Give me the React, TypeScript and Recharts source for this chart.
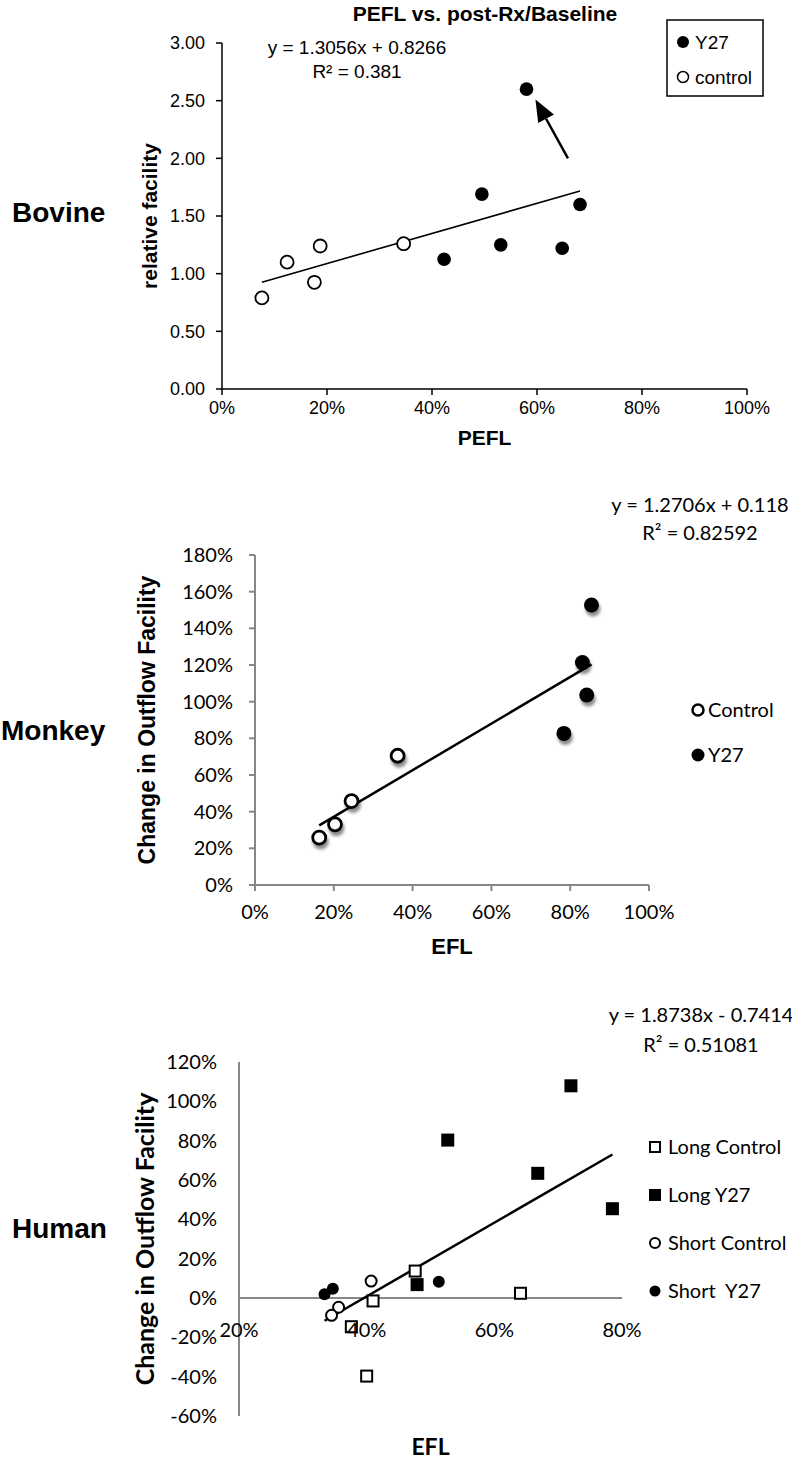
import { ReferenceLine, Scatter, ScatterChart, XAxis, YAxis } from "recharts";

// Bovine panel: PEFL vs. relative facility
const bovineControlX = [0.076, 0.124, 0.176, 0.187, 0.346];
const bovineControlY = [0.79, 1.1, 0.925, 1.24, 1.26];
const bovineY27X = [0.423, 0.495, 0.531, 0.58, 0.648, 0.682];
const bovineY27Y = [1.125, 1.69, 1.25, 2.6, 1.22, 1.6];
const bovineXTicks = [0, 0.2, 0.4, 0.6, 0.8, 1];
const bovineYTicks = [0, 0.5, 1, 1.5, 2, 2.5, 3];
const bovineFit = { slope: 1.3056, intercept: 0.8266 };
// arrow pointing at the outlier: tail, head
const bovineArrow = [
	{ x: 0.659, y: 2.0 },
	{ x: 0.597, y: 2.51 },
];

// Monkey panel: EFL vs. change in outflow facility
const monkeyControlX = [0.163, 0.203, 0.245, 0.362];
const monkeyControlY = [0.258, 0.331, 0.458, 0.705];
const monkeyY27X = [0.784, 0.831, 0.842, 0.854];
const monkeyY27Y = [0.827, 1.213, 1.036, 1.527];
const monkeyXTicks = [0, 0.2, 0.4, 0.6, 0.8, 1];
const monkeyYTicks = [0, 0.2, 0.4, 0.6, 0.8, 1, 1.2, 1.4, 1.6, 1.8];
const monkeyFit = { slope: 1.2706, intercept: 0.118 };

// Human panel
const humanLongControlX = [0.476, 0.41, 0.641, 0.376, 0.4];
const humanLongControlY = [0.137, -0.015, 0.024, -0.146, -0.397];
const humanLongY27X = [0.72, 0.527, 0.668, 0.785, 0.479];
const humanLongY27Y = [1.079, 0.803, 0.634, 0.454, 0.068];
const humanShortControlX = [0.407, 0.356, 0.345];
const humanShortControlY = [0.086, -0.047, -0.088];
const humanShortY27X = [0.334, 0.347, 0.513];
const humanShortY27Y = [0.019, 0.047, 0.083];
const humanXTicks = [0.2, 0.4, 0.6, 0.8];
const humanYTicks = [-0.6, -0.4, -0.2, 0, 0.2, 0.4, 0.6, 0.8, 1, 1.2];
const humanFit = { slope: 1.8738, intercept: -0.7414 };

const ARIAL = "'Liberation Sans', Arial, sans-serif";
const CALIBRI = "Lato, 'Open Sans', sans-serif";
const AXIS_GRAY = "#878787";

const pts = (xs: number[], ys: number[]) => xs.map((x, i) => ({ x, y: ys[i] }));
const pct = (v: number) => `${Math.round(v * 100)}%`;

// trendline drawn over the x range of all points
function fitSegment(xs: number[], fit: { slope: number; intercept: number }) {
	const lo = Math.min(...xs);
	const hi = Math.max(...xs);
	return [
		{ x: lo, y: fit.slope * lo + fit.intercept },
		{ x: hi, y: fit.slope * hi + fit.intercept },
	];
}

const circle =
	(r: number, fill: string, sw: number, filter?: string) =>
	(p: any) => (
		<circle cx={p.cx} cy={p.cy} r={r} fill={fill} stroke="#000" strokeWidth={sw} filter={filter} />
	);

const square = (size: number, fill: string, sw: number) => (p: any) => (
	<rect
		x={p.cx - size / 2}
		y={p.cy - size / 2}
		width={size}
		height={size}
		fill={fill}
		stroke="#000"
		strokeWidth={sw}
	/>
);

function ArrowShape(p: any) {
	const { x1, y1, x2, y2 } = p;
	const ang = Math.atan2(y2 - y1, x2 - x1);
	const len = 22;
	const half = 9;
	const bx = x2 - len * Math.cos(ang);
	const by = y2 - len * Math.sin(ang);
	const nx = -Math.sin(ang);
	const ny = Math.cos(ang);
	return (
		<g>
			<line x1={x1} y1={y1} x2={bx} y2={by} stroke="#000" strokeWidth={2.5} />
			<polygon
				points={`${x2},${y2} ${bx + nx * half},${by + ny * half} ${bx - nx * half},${by - ny * half}`}
				fill="#000"
			/>
		</g>
	);
}

function BovineChart() {
	const allX = [...bovineControlX, ...bovineY27X];
	return (
		<ScatterChart width={792} height={455} margin={{ top: 43, right: 45, bottom: 10, left: 145 }}>
			<XAxis
				type="number"
				dataKey="x"
				domain={[0, 1]}
				ticks={bovineXTicks}
				interval={0}
				tickFormatter={pct}
				height={56}
				axisLine={{ stroke: "#000", strokeWidth: 1.5 }}
				tickLine={{ stroke: "#000", strokeWidth: 1.5 }}
				tickSize={6}
				tickMargin={6}
				tick={{ fill: "#000", fontSize: 18, fontFamily: ARIAL }}
				label={{
					value: "PEFL",
					position: "insideBottom",
					offset: 0,
					fill: "#000",
					fontSize: 21,
					fontWeight: 700,
					fontFamily: ARIAL,
				}}
			/>
			<YAxis
				type="number"
				dataKey="y"
				domain={[0, 3]}
				ticks={bovineYTicks}
				interval={0}
				tickFormatter={(v: number) => v.toFixed(2)}
				width={77}
				axisLine={{ stroke: "#000", strokeWidth: 1.5 }}
				tickLine={{ stroke: "#000", strokeWidth: 1.5 }}
				tickSize={6}
				tickMargin={11}
				tick={{ fill: "#000", fontSize: 18, fontFamily: ARIAL }}
				label={{
					value: "relative facility",
					angle: -90,
					position: "insideLeft",
					offset: 5,
					fill: "#000",
					fontSize: 21,
					fontWeight: 700,
					fontFamily: ARIAL,
					style: { textAnchor: "middle" },
				}}
			/>
			<ReferenceLine segment={fitSegment(allX, bovineFit)} stroke="#000" strokeWidth={1.6} />
			<ReferenceLine segment={bovineArrow} shape={ArrowShape} />
			<Scatter
				name="control"
				data={pts(bovineControlX, bovineControlY)}
				shape={circle(6.5, "#fff", 1.8)}
				isAnimationActive={false}
			/>
			<Scatter
				name="Y27"
				data={pts(bovineY27X, bovineY27Y)}
				shape={circle(6.8, "#000", 0)}
				isAnimationActive={false}
			/>
		</ScatterChart>
	);
}

function MonkeyChart() {
	const allX = [...monkeyControlX, ...monkeyY27X];
	return (
		<ScatterChart width={792} height={480} margin={{ top: 75, right: 143, bottom: 0, left: 142 }}>
			<XAxis
				type="number"
				dataKey="x"
				domain={[0, 1]}
				ticks={monkeyXTicks}
				interval={0}
				tickFormatter={pct}
				height={75}
				axisLine={{ stroke: AXIS_GRAY, strokeWidth: 2 }}
				tickLine={{ stroke: AXIS_GRAY, strokeWidth: 2 }}
				tickSize={6}
				tickMargin={14}
				tick={{ fill: "#000", fontSize: 20, fontFamily: CALIBRI }}
				label={{
					value: "EFL",
					position: "insideBottom",
					offset: 6,
					fill: "#000",
					fontSize: 22,
					fontWeight: 700,
					fontFamily: ARIAL,
				}}
			/>
			<YAxis
				type="number"
				dataKey="y"
				domain={[0, 1.8]}
				ticks={monkeyYTicks}
				interval={0}
				tickFormatter={pct}
				width={113}
				axisLine={{ stroke: AXIS_GRAY, strokeWidth: 2 }}
				tickLine={{ stroke: AXIS_GRAY, strokeWidth: 2 }}
				tickSize={6}
				tickMargin={16}
				tick={{ fill: "#000", fontSize: 20, fontFamily: CALIBRI }}
				label={{
					value: "Change in Outflow Facility",
					angle: -90,
					position: "insideLeft",
					offset: 5,
					fill: "#000",
					fontSize: 23,
					fontWeight: 700,
					fontFamily: ARIAL,
					style: { textAnchor: "middle" },
				}}
			/>
			<ReferenceLine segment={fitSegment(allX, monkeyFit)} stroke="#000" strokeWidth={2.5} />
			<Scatter
				name="Control"
				data={pts(monkeyControlX, monkeyControlY)}
				shape={circle(6.5, "#fff", 2.8, "url(#mkShadow)")}
				isAnimationActive={false}
			/>
			<Scatter
				name="Y27"
				data={pts(monkeyY27X, monkeyY27Y)}
				shape={circle(7.5, "#000", 0, "url(#mkShadow)")}
				isAnimationActive={false}
			/>
		</ScatterChart>
	);
}

const HUMAN_H = 478;
const HUMAN_MARGIN = { top: 72, right: 170, bottom: 13, left: 140 };
const HUMAN_XAXIS_H = 39;

function HumanChart() {
	const allX = [...humanLongControlX, ...humanLongY27X, ...humanShortControlX, ...humanShortY27X];
	const yMin = humanYTicks[0];
	const yMax = humanYTicks[humanYTicks.length - 1];
	const plotH = HUMAN_H - HUMAN_MARGIN.top - HUMAN_MARGIN.bottom - HUMAN_XAXIS_H;
	// x tick labels sit just under the y = 0 line, not at the plot bottom
	const zeroLift = (plotH * (0 - yMin)) / (yMax - yMin);
	const xTick = (p: any) => (
		<text
			x={p.x}
			y={p.y - zeroLift + 39}
			textAnchor="middle"
			fill="#000"
			fontSize={20}
			fontFamily={CALIBRI}
		>
			{pct(p.payload.value)}
		</text>
	);
	return (
		<ScatterChart width={792} height={HUMAN_H} margin={HUMAN_MARGIN}>
			<XAxis
				type="number"
				dataKey="x"
				domain={[0.2, 0.8]}
				ticks={humanXTicks}
				interval={0}
				height={HUMAN_XAXIS_H}
				axisLine={false}
				tickLine={false}
				tickSize={0}
				tickMargin={0}
				tick={xTick}
				label={{
					value: "EFL",
					position: "insideBottom",
					offset: 0,
					fill: "#000",
					fontSize: 23,
					fontWeight: 700,
					fontFamily: CALIBRI,
				}}
			/>
			<YAxis
				type="number"
				dataKey="y"
				domain={[yMin, yMax]}
				ticks={humanYTicks}
				interval={0}
				tickFormatter={pct}
				width={99}
				axisLine={{ stroke: AXIS_GRAY, strokeWidth: 2 }}
				tickLine={false}
				tickSize={0}
				tickMargin={22}
				tick={{ fill: "#000", fontSize: 20, fontFamily: CALIBRI }}
				label={{
					value: "Change in Outflow Facility",
					angle: -90,
					position: "insideLeft",
					offset: 5,
					fill: "#000",
					fontSize: 25,
					fontWeight: 700,
					fontFamily: CALIBRI,
					style: { textAnchor: "middle" },
				}}
			/>
			<ReferenceLine y={0} stroke={AXIS_GRAY} strokeWidth={2} />
			<ReferenceLine segment={fitSegment(allX, humanFit)} stroke="#000" strokeWidth={2.5} />
			<Scatter
				name="Long Control"
				data={pts(humanLongControlX, humanLongControlY)}
				shape={square(11, "#fff", 2)}
				isAnimationActive={false}
			/>
			<Scatter
				name="Long Y27"
				data={pts(humanLongY27X, humanLongY27Y)}
				shape={square(13, "#000", 0)}
				isAnimationActive={false}
			/>
			<Scatter
				name="Short Control"
				data={pts(humanShortControlX, humanShortControlY)}
				shape={circle(5.5, "#fff", 2)}
				isAnimationActive={false}
			/>
			<Scatter
				name="Short Y27"
				data={pts(humanShortY27X, humanShortY27Y)}
				shape={circle(6, "#000", 0)}
				isAnimationActive={false}
			/>
		</ScatterChart>
	);
}

export default function App() {
	return (
		<div
			style={{
				position: "absolute",
				left: 0,
				top: 0,
				width: 792,
				height: 1468,
				background: "#fff",
				overflow: "hidden",
			}}
		>
			<div style={{ position: "absolute", left: 0, top: 0 }}>
				<BovineChart />
			</div>
			<div style={{ position: "absolute", left: 0, top: 480 }}>
				<MonkeyChart />
			</div>
			<div style={{ position: "absolute", left: 0, top: 990 }}>
				<HumanChart />
			</div>

			{/* titles, species names, fit equations and legends */}
			<svg
				width={792}
				height={1468}
				style={{ position: "absolute", left: 0, top: 0, pointerEvents: "none" }}
			>
				<defs>
					<filter id="mkShadow" x="-60%" y="-60%" width="220%" height="220%">
						<feDropShadow dx={1.5} dy={4} stdDeviation={1.8} floodColor="#000" floodOpacity={0.45} />
					</filter>
				</defs>

				<g fontFamily={ARIAL} fill="#000">
					<text x={485} y={21} textAnchor="middle" fontSize={21} fontWeight={700}>
						PEFL vs. post-Rx/Baseline
					</text>
					<text x={357} y={54} textAnchor="middle" fontSize={19}>
						y = 1.3056x + 0.8266
					</text>
					<text x={357} y={78} textAnchor="middle" fontSize={19}>
						R² = 0.381
					</text>
					<text x={12} y={222} fontSize={28} fontWeight={700}>
						Bovine
					</text>
					<text x={1} y={740} fontSize={28} fontWeight={700}>
						Monkey
					</text>
					<text x={12} y={1238} fontSize={28} fontWeight={700}>
						Human
					</text>
				</g>

				{/* bovine legend */}
				<rect x={667} y={20} width={96} height={76} fill="#fff" stroke="#000" strokeWidth={1.5} />
				<circle cx={683} cy={42} r={6} fill="#000" />
				<text x={695} y={49} fontSize={19} fontFamily={ARIAL}>
					Y27
				</text>
				<circle cx={683} cy={77} r={5.5} fill="#fff" stroke="#000" strokeWidth={1.5} />
				<text x={695} y={84} fontSize={19} fontFamily={ARIAL}>
					control
				</text>

				<g fontFamily={CALIBRI} fill="#000" fontSize={20}>
					<text x={700} y={512} textAnchor="middle">
						y = 1.2706x + 0.118
					</text>
					<text x={700} y={540} textAnchor="middle">
						R² = 0.82592
					</text>
					<circle cx={698} cy={710} r={5.5} fill="#fff" stroke="#000" strokeWidth={2.5} />
					<text x={708} y={717}>Control</text>
					<circle cx={698} cy={755} r={6.5} fill="#000" />
					<text x={708} y={762}>Y27</text>

					<text x={701} y={1022} textAnchor="middle">
						y = 1.8738x - 0.7414
					</text>
					<text x={701} y={1052} textAnchor="middle">
						R² = 0.51081
					</text>
					<rect x={650} y={1142} width={10} height={10} fill="#fff" stroke="#000" strokeWidth={2} />
					<text x={668} y={1154}>Long Control</text>
					<rect x={649} y={1189} width={12} height={12} fill="#000" />
					<text x={668} y={1202}>Long Y27</text>
					<circle cx={655} cy={1243} r={5} fill="#fff" stroke="#000" strokeWidth={2} />
					<text x={668} y={1250}>Short Control</text>
					<circle cx={655} cy={1291} r={5.5} fill="#000" />
					<text x={668} y={1298} style={{ whiteSpace: "pre" }}>
						Short  Y27
					</text>
				</g>
			</svg>
		</div>
	);
}
